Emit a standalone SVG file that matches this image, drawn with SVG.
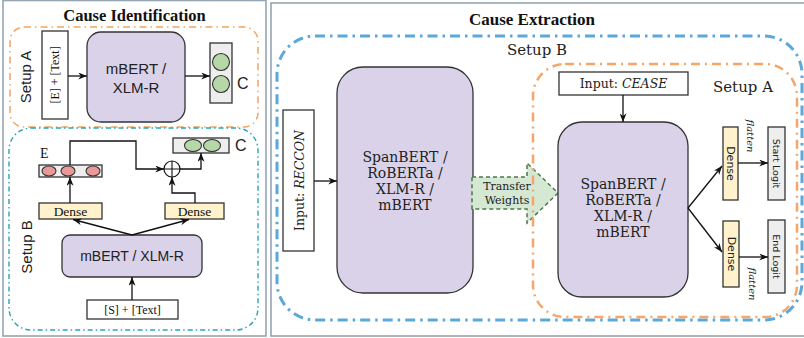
<svg xmlns="http://www.w3.org/2000/svg" width="804" height="338" viewBox="0 0 804 338">
<defs>
<marker id="ah" viewBox="0 0 10 8" refX="10" refY="4" markerWidth="9" markerHeight="7" markerUnits="userSpaceOnUse" orient="auto">
<path d="M0,0 L10,4 L0,8 L3,4 Z" fill="#111"/>
</marker>
<style>
.panel{fill:#fff;stroke:#95a5b3;stroke-width:1.6}
.box{stroke:#333;stroke-width:1.3}
.lav{fill:#d9d2e9}
.wht{fill:#fff}
.gry{fill:#eeeeee}
.yel{fill:#fff2cc}
.grn{fill:#b6d7a8;stroke:#333;stroke-width:1.1}
.red{fill:#ea9999;stroke:#333;stroke-width:1.1}
.ln{fill:none;stroke:#111;stroke-width:1.3}
.ser{font-family:"Liberation Serif","Times New Roman",serif;fill:#111}
.sans{font-family:"Liberation Sans",Arial,sans-serif;fill:#222}
.dser{font-family:"DejaVu Serif",serif;fill:#222}
.dsans{font-family:"DejaVu Sans",sans-serif;fill:#222}
.c{text-anchor:middle}
.m{dominant-baseline:central}
</style>
</defs>

<rect class="panel" x="3" y="0.5" width="263" height="335.5"/>
<rect class="panel" x="271" y="3" width="545" height="333"/>

<g id="left-titles">
<text class="ser c" x="134.5" y="21" font-size="16.5" font-weight="bold">Cause Identification</text>
</g>

<g id="setupA-left">
<rect x="10" y="27" width="248" height="100" rx="14" fill="none" stroke="#f4a460" stroke-width="1.5" stroke-dasharray="7 4 1.5 4"/>
<text class="sans c m" font-size="15" transform="translate(25,77) rotate(-90)">Setup A</text>
</g>
<g id="input-E">
<rect class="box wht" x="42" y="31" width="26" height="88"/>
<text class="ser c m" font-size="12" transform="translate(55,75) rotate(-90)">[E] + [Text]</text>
</g>
<g id="mbert-A">
<rect class="box lav" x="87" y="32" width="98" height="90" rx="14"/>
<text class="sans c" x="136" y="74" font-size="15">mBERT /</text>
<text class="sans c" x="136" y="93" font-size="15">XLM-R</text>
</g>
<g id="out-C-A">
<rect class="box gry" x="210" y="43" width="22" height="60"/>
<circle class="grn" cx="221" cy="62" r="8.5"/>
<circle class="grn" cx="221" cy="84" r="8.5"/>
<text class="sans" x="237" y="89" font-size="16">C</text>
</g>

<g id="setupB-left">
<rect x="9" y="128" width="249" height="202" rx="22" fill="none" stroke="#27a6b3" stroke-width="1.4" stroke-dasharray="5 3 1.5 3"/>
<text class="sans c m" font-size="15" transform="translate(26,247) rotate(-90)">Setup B</text>
</g>
<g id="vec-E">
<text class="ser" x="40" y="158" font-size="14">E</text>
<rect class="box gry" x="39" y="165" width="63" height="12"/>
<ellipse class="red" cx="49" cy="171" rx="7" ry="5"/>
<ellipse class="red" cx="68" cy="171" rx="7" ry="5"/>
<ellipse class="red" cx="93" cy="171" rx="7" ry="5"/>
</g>
<g id="vec-C">
<rect class="box gry" x="173" y="138" width="56" height="15"/>
<ellipse class="grn" cx="193" cy="145.5" rx="8.5" ry="6"/>
<ellipse class="grn" cx="212" cy="145.5" rx="8.5" ry="6"/>
<text class="sans" x="235" y="151" font-size="16">C</text>
</g>
<g id="oplus">
<circle cx="172" cy="169" r="8" fill="#fff" stroke="#111" stroke-width="1.2"/>
<path d="M164,169 H180 M172,161 V177" stroke="#111" stroke-width="1.1"/>
</g>
<g id="dense-L">
<rect class="box yel" x="39" y="203" width="63" height="16"/>
<text class="ser c" x="70.5" y="216" font-size="13.5">Dense</text>
</g>
<g id="dense-R">
<rect class="box yel" x="165" y="203" width="59" height="16"/>
<text class="ser c" x="194.5" y="216" font-size="13.5">Dense</text>
</g>
<g id="mbert-B">
<rect class="box lav" x="62" y="235" width="140" height="42" rx="8"/>
<text class="sans c" x="132" y="261" font-size="14">mBERT / XLM-R</text>
</g>
<g id="input-S">
<rect class="box wht" x="87" y="300" width="91" height="19"/>
<text class="ser c" x="132.5" y="314" font-size="12">[S] + [Text]</text>
</g>

<g id="right-title">
<text class="ser c" x="532" y="25" font-size="17" font-weight="bold">Cause Extraction</text>
</g>
<g id="setupB-right">
<rect x="277" y="36" width="525" height="284" rx="38" fill="none" stroke="#5ba8da" stroke-width="3" stroke-dasharray="10 5 2.5 5"/>
<text class="dser c" x="537" y="55" font-size="15">Setup B</text>
</g>
<g id="input-reccon">
<rect class="box wht" x="283" y="110" width="31" height="141"/>
<text class="dser c m" font-size="12.5" transform="translate(299,180.5) rotate(-90)">Input: <tspan font-style="italic">RECCON</tspan></text>
</g>
<g id="spanbert-B">
<rect class="box lav" x="337" y="67" width="136" height="226" rx="26"/>
<text class="dser c" x="405" y="162" font-size="14">SpanBERT /</text>
<text class="dser c" x="405" y="178" font-size="14">RoBERTa /</text>
<text class="dser c" x="405" y="194" font-size="14">XLM-R /</text>
<text class="dser c" x="405" y="210" font-size="14">mBERT</text>
</g>
<g id="transfer">
<path d="M472,177 H527 V163 L558,193 L527,223 V209 H472 Z" fill="#d5e8d4" stroke="#4a7a48" stroke-width="1.5" stroke-dasharray="4 3"/>
<text class="dser c" x="507" y="190" font-size="11">Transfer</text>
<text class="dser c" x="507" y="204" font-size="11">Weights</text>
</g>
<g id="setupA-right">
<rect x="533" y="64" width="264" height="253" rx="32" fill="none" stroke="#f6a66a" stroke-width="2.5" stroke-dasharray="9 5 2 5"/>
<text class="dser c" x="743" y="92" font-size="15">Setup A</text>
</g>
<g id="input-cease">
<rect class="box wht" x="559" y="72" width="129" height="23"/>
<text class="dser c" x="623.5" y="88" font-size="12.5">Input: <tspan font-style="italic">CEASE</tspan></text>
</g>
<g id="spanbert-A">
<rect class="box lav" x="558" y="122" width="130" height="175" rx="24"/>
<text class="dser c" x="623" y="189" font-size="14">SpanBERT /</text>
<text class="dser c" x="623" y="205" font-size="14">RoBERTa /</text>
<text class="dser c" x="623" y="221" font-size="14">XLM-R /</text>
<text class="dser c" x="623" y="237" font-size="14">mBERT</text>
</g>
<g id="dense-top">
<rect class="box yel" x="723" y="127" width="15" height="73"/>
<text class="dsans c m" font-size="11" transform="translate(730.5,163.5) rotate(90)">Dense</text>
</g>
<g id="start-logit">
<rect class="box gry" x="768" y="127" width="17" height="73"/>
<text class="dsans c m" font-size="9.5" transform="translate(776.5,163.5) rotate(90)">Start Logit</text>
</g>
<g id="dense-bot">
<rect class="box yel" x="723" y="221" width="16" height="66"/>
<text class="dsans c m" font-size="11" transform="translate(731,254) rotate(90)">Dense</text>
</g>
<g id="end-logit">
<rect class="box gry" x="768" y="220" width="17" height="73"/>
<text class="dsans c m" font-size="9.5" transform="translate(776.5,256.5) rotate(90)">End Logit</text>
</g>
<g id="flatten-labels">
<text class="dser c m" font-size="10" font-style="italic" transform="translate(750,136) rotate(90)">flatten</text>
<text class="dser c m" font-size="10" font-style="italic" transform="translate(752,284) rotate(90)">flatten</text>
</g>

<g id="connectors" class="ln">
<path class="ln" d="M68,76 H87" marker-end="url(#ah)"/>
<path class="ln" d="M185,76 H210" marker-end="url(#ah)"/>
<path class="ln" d="M70,165 V141 H136 V169 H164" marker-end="url(#ah)"/>
<path class="ln" d="M180,169 H201 V153" marker-end="url(#ah)"/>
<path class="ln" d="M70,203 V177" marker-end="url(#ah)"/>
<path class="ln" d="M195,203 V193 H172 V177" marker-end="url(#ah)"/>
<path class="ln" d="M132,235 L73,219.5" marker-end="url(#ah)"/>
<path class="ln" d="M132,235 L189,219.5" marker-end="url(#ah)"/>
<path class="ln" d="M132,300 V277" marker-end="url(#ah)"/>
<path class="ln" d="M314,181 H337" marker-end="url(#ah)"/>
<path class="ln" d="M623,95 V122" marker-end="url(#ah)"/>
<path class="ln" d="M688,208 L722,166" marker-end="url(#ah)"/>
<path class="ln" d="M688,208 L722,252" marker-end="url(#ah)"/>
<path class="ln" d="M738,163 H768" marker-end="url(#ah)"/>
<path class="ln" d="M739,257 H768" marker-end="url(#ah)"/>
</g>
</svg>
